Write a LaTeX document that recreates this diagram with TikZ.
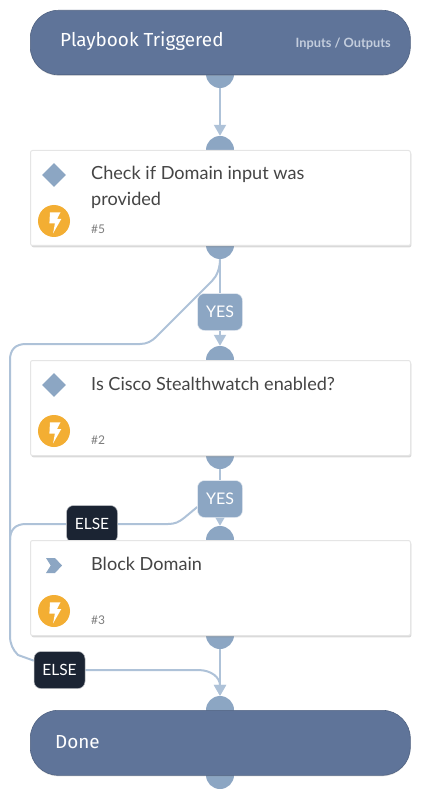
\documentclass[tikz,border=0pt]{standalone}
\usepackage{fontspec}
\setmainfont{Lato}
\newfontfamily\titlefont{Fira Sans}
\usetikzlibrary{shadows,backgrounds,arrows.meta,shapes.geometric}
\definecolor{termfill}{HTML}{5F7499}
\definecolor{portfill}{HTML}{8CA6C3}
\definecolor{wire}{HTML}{AEC2D8}
\definecolor{elsefill}{HTML}{1B2433}
\definecolor{bodytext}{HTML}{454545}
\definecolor{idtext}{HTML}{7D7D7D}
\definecolor{ioext}{HTML}{C3CDDD}
\definecolor{boltfill}{HTML}{F3AE33}
\tikzset{
 x=1pt,y=-1pt,
 termbox/.style={draw=termfill!85!black,line width=.6pt,fill=termfill,rounded corners=28pt,minimum width=380pt,inner sep=0pt,anchor=north west,drop shadow={opacity=.25,shadow xshift=0pt,shadow yshift=-1pt}},
 cardbox/.style={draw=black!10,line width=1pt,fill=white,rounded corners=2pt,minimum width=380pt,minimum height=95pt,inner sep=0pt,anchor=north west,drop shadow={opacity=.3,shadow xshift=.9pt,shadow yshift=-1.8pt}},
 portdot/.style={circle,fill=portfill,minimum size=28pt,inner sep=0pt},
 yesbox/.style={draw=white!80!portfill,line width=.5pt,fill=portfill,rounded corners=7pt,minimum width=45pt,minimum height=37pt,inner sep=0pt,text=white,font=\fontsize{16}{18}\selectfont},
 elsebox/.style={draw=white!70!elsefill,line width=.5pt,fill=elsefill,rounded corners=7pt,minimum width=51pt,minimum height=37pt,inner sep=0pt,text=white,font=\fontsize{15.5}{18}\selectfont},
 wireline/.style={draw=wire,line width=2pt},
 wirearrow/.style={wireline,-{Triangle[length=11pt,width=12pt,fill=wire]}},
 cardtext/.style={text=bodytext,anchor=base west,inner sep=0pt,font=\fontsize{18.1}{25.3}\selectfont,align=left},
 idlabel/.style={text=idtext,anchor=base west,inner sep=0pt,font=\fontsize{12}{14}\selectfont},
 titletext/.style={text=white,anchor=base west,inner sep=0pt,font=\titlefont\fontsize{18.9}{20}\selectfont},
 iotext/.style={text=ioext,anchor=base east,inner sep=0pt,font=\bfseries\fontsize{12.8}{14}\selectfont},
 diamondicon/.style={diamond,fill=portfill,minimum size=24pt,inner sep=0pt},
 bolticon/.style={circle,fill=boltfill,minimum size=32pt,inner sep=0pt},
}
\newcommand{\boltat}[1]{\fill[white] ([shift={(-4,-8.7)}]#1.center) -- ([shift={(6.5,-8.7)}]#1.center) -- ([shift={(3,-2)}]#1.center) -- ([shift={(7.3,-2)}]#1.center) -- ([shift={(-.9,12.3)}]#1.center) -- ([shift={(.9,2.5)}]#1.center) -- ([shift={(-4.6,2.5)}]#1.center) -- cycle;}
\begin{document}
\begin{tikzpicture}
\useasboundingbox (0,0) rectangle (420,799);
% ports
\node[portdot] (p0b) at (220,74) {};
\node[portdot] (p1t) at (220,150) {};
\node[portdot] (p1b) at (220,245) {};
\node[portdot] (p2t) at (220,360) {};
\node[portdot] (p2b) at (220,455) {};
\node[portdot] (p3t) at (220,540) {};
\node[portdot] (p3b) at (220,635) {};
\node[portdot] (p4t) at (220,710) {};
\node[portdot] (p4b) at (220,775) {};
\coordinate (trunk) at (10,540);
% terminal and cards
\node[termbox,minimum height=64.5pt] (start) at (30,10) {};
\node[cardbox] (c5) at (30,150) {};
\node[cardbox] (c2) at (30,360) {};
\node[elsebox] (else1) at (92,524) {ELSE};
\node[cardbox] (c3) at (30,540) {};
\node[termbox,minimum height=65pt] (done) at (30,710) {};
\node[yesbox] (yes1) at (220,312) {YES};
\node[yesbox] (yes2) at (220,499) {YES};
\node[elsebox] (else2) at (59.5,670) {ELSE};
% text
\node[titletext] (t0) at (60,47) {Playbook Triggered};
\node[iotext] (t0b) at (391,48) {Inputs / Outputs};
\node[cardtext] (t5) at (91,180) {Check if Domain input was};
\node[cardtext] (t5b) at (91,205.3) {provided};
\node[idlabel] (id5) at (91,234) {\#5};
\node[cardtext] (t2) at (91,390) {Is Cisco Stealthwatch enabled?};
\node[idlabel] (id2) at (91,444) {\#2};
\node[cardtext] (t3) at (91,570) {Block Domain};
\node[idlabel] (id3) at (91,624) {\#3};
\node[titletext] (t4) at (55,748) {Done};
% icons
\node[diamondicon] (d5) at (54,175) {};
\node[diamondicon] (d2) at (54,385) {};
\fill[portfill] (46,558) -- (55,558) -- (62,565.5) -- (55,573) -- (46,573) -- (50.7,565.5) -- cycle;
\node[bolticon] (b5) at (54,221) {};
\node[bolticon] (b2) at (54,431) {};
\node[bolticon] (b3) at (54,611) {};
\boltat{b5}\boltat{b2}\boltat{b3}
% connectors
\begin{pgfonlayer}{background}
\draw[wirearrow] (p0b.south) -- (p1t.north);
\draw[wireline] (p1b.south) -- (yes1.north);
\draw[wirearrow] (yes1.south) -- (p2t.north);
\draw[wireline] (p2b.south) -- (yes2.north);
\draw[wirearrow] (yes2.south) -- (p3t.north);
\draw[wirearrow] (p3b.south) -- (p4t.north);
\draw[wireline] (p1b.south) .. controls (220,268) and (217,276) .. (212,281) -- (156,337) .. controls (152,341) and (147,344) .. (140,344) -- (26,344) .. controls (15,344) and (10,350) .. (10,360) -- (trunk) -- (10,636) .. controls (10,644) and (13,650) .. (18,655) -- (else2.160);
\draw[wireline] (yes2.west |- 0,507) -- (184,518) .. controls (179,522) and (175,524) .. (168,524) -- (else1.east);
\draw[wireline] (else1.west) -- (26,524) .. controls (15,524) and (10,530) .. (trunk);
\draw[wirearrow] (else2.east) -- (198,670) .. controls (212,670) and (220,678) .. (p4t.north);
\end{pgfonlayer}
\end{tikzpicture}
\end{document}
